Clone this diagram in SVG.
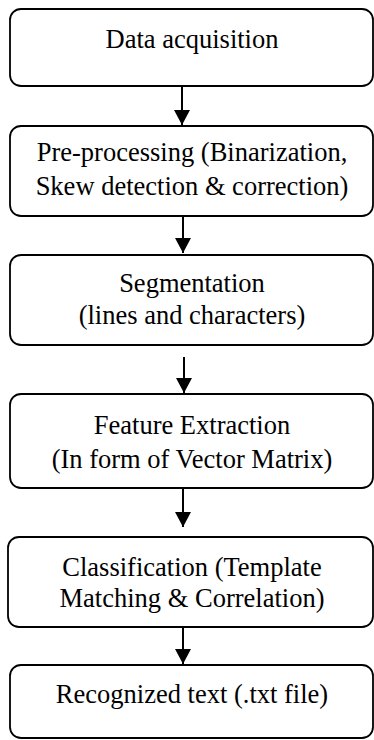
<svg xmlns="http://www.w3.org/2000/svg" width="374" height="740" viewBox="0 0 374 740">
<defs>
<style>
.box{fill:#fff;stroke:#000;stroke-width:1.8}
.t{font-family:"Liberation Serif","Times New Roman",serif;font-size:26.5px;fill:#000;text-anchor:middle}
.c{stroke:#000;stroke-width:2;fill:none}
</style>
<marker id="ah" markerWidth="15" markerHeight="16" refX="15" refY="8" orient="auto" markerUnits="userSpaceOnUse" viewBox="0 0 15 16">
<path d="M0,0 L15,8 L0,16 Z" fill="#000"/>
</marker>
</defs>
<rect width="374" height="740" fill="#fff"/>
<g id="n1"><rect class="box" x="10" y="9" width="363" height="77" rx="11"/><text class="t" x="192" y="48">Data acquisition</text></g>
<g id="n2"><rect class="box" x="10" y="126" width="363" height="90" rx="11"/><text class="t" x="192" y="161">Pre-processing (Binarization,</text><text class="t" x="192" y="195">Skew detection &amp; correction)</text></g>
<g id="n3"><rect class="box" x="10" y="255" width="363" height="90" rx="11"/><text class="t" x="192" y="292">Segmentation</text><text class="t" x="192" y="324">(lines and characters)</text></g>
<g id="n4"><rect class="box" x="10" y="394" width="363" height="94" rx="11"/><text class="t" x="192" y="434">Feature Extraction</text><text class="t" x="192" y="468">(In form of Vector Matrix)</text></g>
<g id="n5"><rect class="box" x="8" y="537" width="365" height="90" rx="11"/><text class="t" x="192" y="576">Classification (Template</text><text class="t" x="192" y="607">Matching &amp; Correlation)</text></g>
<g id="n6"><rect class="box" x="10" y="665" width="363" height="73" rx="11"/><text class="t" x="192" y="703">Recognized text (.txt file)</text></g>
<g id="connectors">
<line class="c" x1="182" y1="86" x2="182" y2="125" marker-end="url(#ah)"/>
<line class="c" x1="183" y1="216" x2="183" y2="253" marker-end="url(#ah)"/>
<line class="c" x1="184" y1="357" x2="184" y2="393" marker-end="url(#ah)"/>
<line class="c" x1="183" y1="488" x2="183" y2="527" marker-end="url(#ah)"/>
<line class="c" x1="183" y1="627" x2="183" y2="664" marker-end="url(#ah)"/>
</g>
</svg>
